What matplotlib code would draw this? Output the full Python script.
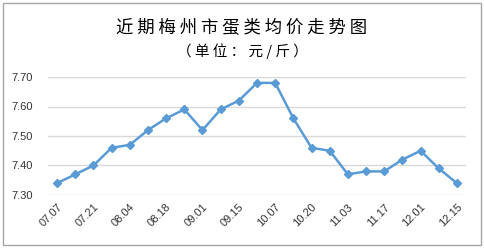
import matplotlib
matplotlib.use("Agg")
import matplotlib.pyplot as plt
from matplotlib.patches import Rectangle

dates = ["07.07", "07.14", "07.21", "07.28", "08.04", "08.11", "08.18", "08.25",
         "09.01", "09.08", "09.15", "09.22", "10.07", "10.13", "10.20", "10.27",
         "11.03", "11.10", "11.17", "11.24", "12.01", "12.08", "12.15"]
prices = [7.34, 7.37, 7.40, 7.46, 7.47, 7.52, 7.56, 7.59, 7.52, 7.59, 7.62, 7.68,
          7.68, 7.56, 7.46, 7.45, 7.37, 7.38, 7.38, 7.42, 7.45, 7.39, 7.34]
yticks = [7.30, 7.40, 7.50, 7.60, 7.70]

title = "近期梅州市蛋类均价走势图"
subtitle = "（单位：元/斤）"

W, H = 484, 248
fig = plt.figure(figsize=(W / 100, H / 100), dpi=100)
fig.patches.append(Rectangle((3 / W, 3 / H), 478 / W, 242 / H, transform=fig.transFigure,
                             fill=False, edgecolor="#A6A6A6", linewidth=1.0))

ax = fig.add_axes([48 / W, 1 - 195 / H, 418 / W, 118 / H])
x = list(range(len(dates)))
ax.plot(x, prices, color="#5B9BD5", linewidth=1.8, marker="D", markersize=3.8,
        markerfacecolor="#5B9BD5", markeredgecolor="#5B9BD5", zorder=3)

ax.set_xlim(-0.5, len(dates) - 0.5)
ax.set_ylim(yticks[0], yticks[-1])
ax.set_yticks(yticks)
ax.set_yticklabels([f"{v:.2f}" for v in yticks])
ax.yaxis.grid(True, color="#D9D9D9", linewidth=1.0)
ax.set_axisbelow(True)
for s in ax.spines.values():
    s.set_visible(False)

ax.set_xticks(x[::2])
ax.set_xticklabels(dates[::2], rotation=45, ha="right", va="top", rotation_mode="anchor")
ax.tick_params(axis="both", length=0, labelsize=8, labelcolor="#333333")
ax.tick_params(axis="x", pad=5)
ax.tick_params(axis="y", pad=11)
for lab in ax.get_xticklabels() + ax.get_yticklabels():
    lab.set_family(["Liberation Sans", "DejaVu Sans"])

fig.text(0.5, 1 - 28 / H, " ".join(title), ha="center", va="center", fontsize=12.5,
         family=["Noto Sans CJK SC", "DejaVu Sans"], color="#000000")
fig.text(0.5, 1 - 51 / H, " ".join(subtitle), ha="center", va="center", fontsize=10.5,
         family=["Noto Sans CJK SC", "DejaVu Sans"], color="#000000")

fig.savefig("out.png", dpi=100)
